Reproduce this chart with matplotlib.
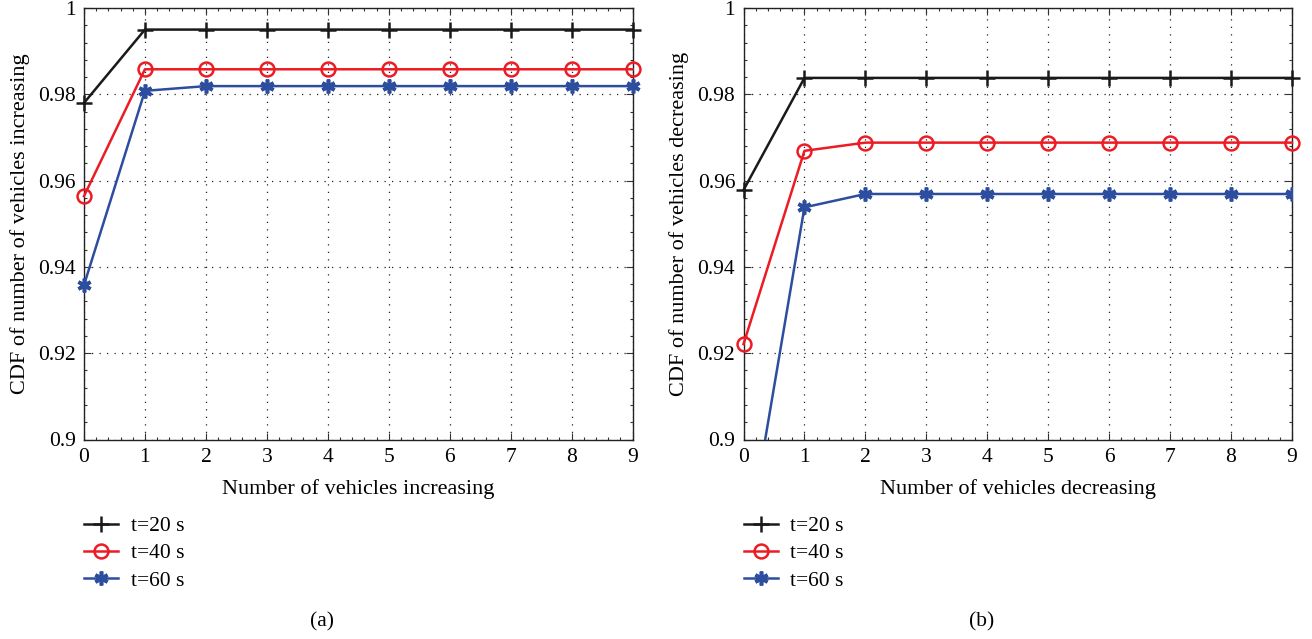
import matplotlib

matplotlib.use("Agg")
import matplotlib.pyplot as plt
from matplotlib.ticker import MultipleLocator

# CDF of vehicle count changes per time window
n_vehicles = list(range(10))

inc_t20 = [0.978, 0.995, 0.995, 0.995, 0.995, 0.995, 0.995, 0.995, 0.995, 0.995]
inc_t40 = [0.9564, 0.9858, 0.9858, 0.9858, 0.9858, 0.9858, 0.9858, 0.9858, 0.9858, 0.9858]
inc_t60 = [0.9358, 0.9808, 0.9819, 0.9819, 0.9819, 0.9819, 0.9819, 0.9819, 0.9819, 0.9819]

dec_t20 = [0.9578, 0.9838, 0.9838, 0.9838, 0.9838, 0.9838, 0.9838, 0.9838, 0.9838, 0.9838]
dec_t40 = [0.9221, 0.9669, 0.9688, 0.9688, 0.9688, 0.9688, 0.9688, 0.9688, 0.9688, 0.9688]
dec_t60 = [0.8703, 0.9538, 0.9569, 0.9569, 0.9569, 0.9569, 0.9569, 0.9569, 0.9569, 0.9569]

labels = ["t=20 s", "t=40 s", "t=60 s"]
y_ticks = [0.9, 0.92, 0.94, 0.96, 0.98, 1.0]
y_tick_labels = ["0.9", "0.92", "0.94", "0.96", "0.98", "1"]

plt.rcParams["font.family"] = ["Liberation Serif", "DejaVu Serif"]
plt.rcParams["font.size"] = 15

W, H = 1312, 639
fig = plt.figure(figsize=(W / 100, H / 100), dpi=100)

styles = [
    dict(color="#1a1a1a", marker="+", markersize=12, markeredgewidth=1.8),
    dict(color="#ec1c24", marker="o", markersize=10, markerfacecolor="none", markeredgewidth=1.8),
    dict(color="#2d4d9f", marker=(6, 2, 0), markersize=10, markeredgewidth=2.6),
]


def draw_panel(left_px, series, xlabel, ylabel, tag):
    ax = fig.add_axes([left_px / W, 1 - 439.5 / H, 548.5 / W, 431.5 / H])
    for i, (vals, st) in enumerate(zip(series, styles)):
        clip = min(vals) < 0.9
        ax.plot(n_vehicles, vals, linewidth=1.8, label=labels[i], clip_on=clip, zorder=3, **st)

    ax.set_xlim(0, 9)
    ax.set_ylim(0.9, 1.0)
    ax.set_xticks(n_vehicles)
    ax.set_yticks(y_ticks)
    ax.set_yticklabels(y_tick_labels)
    ax.xaxis.set_minor_locator(MultipleLocator(0.2))
    ax.yaxis.set_minor_locator(MultipleLocator(0.004))
    ax.tick_params(which="both", direction="in", top=True, right=True, width=0.8, color="#333333")
    ax.tick_params(which="major", length=5, labelsize=15.5, pad=6)
    ax.tick_params(which="minor", length=2.5)
    ax.grid(True, which="major", linestyle=(0, (1, 5)), color="#222222", linewidth=0.9)
    for sp in ax.spines.values():
        sp.set_linewidth(1.0)
        sp.set_color("#222222")

    ax.set_xlabel(xlabel, fontsize=16, labelpad=9)
    ax.set_ylabel(ylabel, fontsize=16, labelpad=6)

    ax.legend(
        loc="upper left",
        bbox_to_anchor=(left_px / W, 1 - 516 / H),
        bbox_transform=fig.transFigure,
        frameon=False,
        fontsize=15.5,
        handlelength=1.58,
        handletextpad=0.6,
        labelspacing=0.34,
        borderpad=0,
        borderaxespad=0,
    )
    fig.text((left_px + 238) / W, 1 - 622 / H, tag, ha="center", va="center", fontsize=15.5)
    return ax


draw_panel(
    84,
    [inc_t20, inc_t40, inc_t60],
    "Number of vehicles increasing",
    "CDF of number of vehicles increasing",
    "(a)",
)
draw_panel(
    743.5,
    [dec_t20, dec_t40, dec_t60],
    "Number of vehicles decreasing",
    "CDF of number of vehicles decreasing",
    "(b)",
)

fig.savefig("out.png", dpi=100)
